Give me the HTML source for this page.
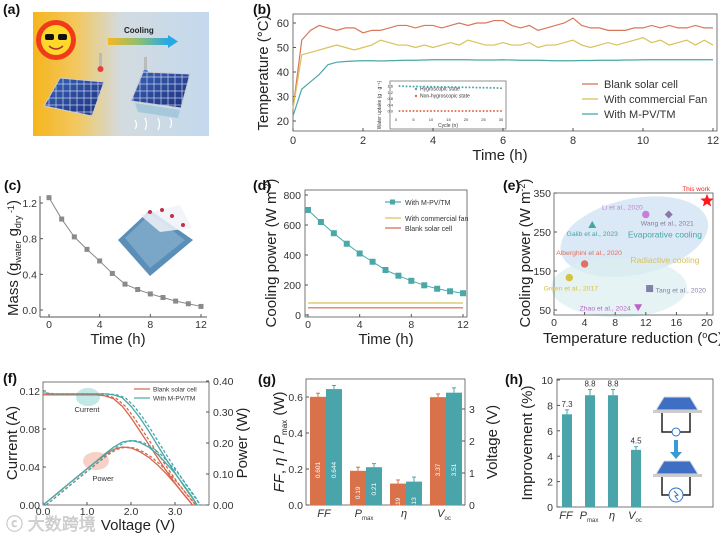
<!DOCTYPE html>
<html><head><meta charset="utf-8">
<style>
html,body{margin:0;padding:0;background:#fff;}
svg{display:block;font-family:"Liberation Sans","Noto Sans CJK SC",sans-serif;}
.tk{font-size:10.5px;fill:#333;}
.al{font-size:15px;fill:#222;}
.pl{font-size:14px;font-weight:bold;fill:#111;}
</style></head>
<body>
<svg id="fig" width="720" height="535" viewBox="0 0 720 535" xmlns="http://www.w3.org/2000/svg">
<defs>
<linearGradient id="bgA" x1="0" x2="1" y1="0" y2="0"><stop offset="0" stop-color="#f6b51c"/><stop offset="0.25" stop-color="#f2c860"/><stop offset="0.5" stop-color="#d3dbe0"/><stop offset="1" stop-color="#c3d9ee"/></linearGradient>
<linearGradient id="arrA" x1="0" x2="1"><stop offset="0" stop-color="#f5b820"/><stop offset="0.5" stop-color="#8fbf70"/><stop offset="1" stop-color="#27a8e6"/></linearGradient>
<linearGradient id="pv" x1="0" x2="1" y1="0" y2="1"><stop offset="0" stop-color="#3a63b8"/><stop offset="1" stop-color="#1d2f7a"/></linearGradient>
<pattern id="grid" width="7" height="7" patternUnits="userSpaceOnUse"><rect width="7" height="7" fill="none" stroke="#c9d6f0" stroke-width="0.7"/></pattern>
</defs>

<!-- Panel a -->
<g>
<text class="pl" x="3" y="14">(a)</text>
<rect x="33" y="12" width="176" height="124" fill="url(#bgA)"/>
<g>
<circle cx="56" cy="40" r="20" fill="#f03a1a"/>
<circle cx="56" cy="40" r="15" fill="#ffd92a"/>
<rect x="45" y="34" width="9" height="6" rx="2" fill="#111"/><rect x="58" y="34" width="9" height="6" rx="2" fill="#111"/>
<path d="M49 46 Q56 52 63 46" stroke="#a33" stroke-width="1.5" fill="none"/>
</g>
<text x="124" y="33" font-size="8" font-weight="bold" fill="#222">Cooling</text>
<rect x="108" y="38" width="60" height="7" fill="url(#arrA)"/>
<path d="M168 35 L178 41.5 L168 48 Z" fill="#27a8e6"/>
<rect x="99" y="53" width="3" height="13" fill="#bbb"/><circle cx="100.5" cy="69" r="3" fill="#e04040"/>
<rect x="144" y="57" width="3" height="13" fill="#bbb"/><circle cx="145.5" cy="73" r="3" fill="#2563d8"/>
<path d="M60 78 L104 82 L92 116 L44 106 Z" fill="url(#pv)" stroke="#ccc"/>
<path d="M60 78 L104 82 L92 116 L44 106 Z" fill="url(#grid)"/>
<path d="M143 72 L190 74 L181 108 L131 101 Z" fill="url(#pv)" stroke="#ccc"/>
<path d="M143 72 L190 74 L181 108 L131 101 Z" fill="url(#grid)"/>
<path d="M135 103 L180 110 L178 118 L138 112 Z" fill="#9cc3d8" opacity="0.8"/>
<path d="M135 120 q3 5 0 9 M145 118 q3 6 0 12 M158 118 q3 6 0 12 M170 118 q3 5 0 10" stroke="#fff" stroke-width="1.2" fill="none"/>
</g>

<!-- Panel b -->
<g id="pb">
<text class="pl" x="253" y="14">(b)</text>
<rect x="293" y="14" width="424" height="117" fill="none" stroke="#555" stroke-width="0.8"/>
<text class="al" transform="translate(268,73) rotate(-90)" text-anchor="middle" font-size="16">Temperature (°C)</text>
<text class="al" x="500" y="160" text-anchor="middle" font-size="15">Time (h)</text>
<rect x="390" y="81" width="116" height="48" fill="#fff" stroke="#777" stroke-width="0.8"/>
<text transform="translate(381,105) rotate(-90)" text-anchor="middle" font-size="5" fill="#333">Water uptake (g · g⁻¹)</text>
<text x="448" y="127" text-anchor="middle" font-size="5" fill="#333">Cycle (n)</text>
<circle cx="416" cy="89" r="1.2" fill="#4aa8a8"/><text x="420" y="90.5" font-size="5" fill="#333">Hygroscopic state</text>
<circle cx="416" cy="96" r="1.2" fill="#e0704f"/><text x="420" y="97.5" font-size="5" fill="#333">Non-hygroscopic state</text>
</g>

<!-- Panel c -->
<g id="pc">
<text class="pl" x="4" y="190">(c)</text>
<text class="al" transform="translate(18,258) rotate(-90)" text-anchor="middle" font-size="14">Mass (g<tspan font-size="9" dy="3">water</tspan><tspan dy="-3"> g</tspan><tspan font-size="9" dy="3">dry</tspan><tspan font-size="9" dy="-7"> -1</tspan><tspan dy="4">)</tspan></text>
<text class="al" x="118" y="344" text-anchor="middle">Time (h)</text>
<g>
<path d="M118 240 L150 210 L193 240 L150 276 Z" fill="#5b8fb8"/>
<path d="M125 238 L150 214 L185 240 L150 268 Z" fill="#8fb5d0" opacity="0.6"/>
<path d="M140 215 L180 205 L192 228 L160 232 Z" fill="#f0f2f8" opacity="0.85"/>
<circle cx="150" cy="212" r="2" fill="#c0304a"/><circle cx="162" cy="210" r="2" fill="#c0304a"/><circle cx="172" cy="216" r="2" fill="#c0304a"/><circle cx="183" cy="225" r="2" fill="#c0304a"/>
</g>
</g>

<!-- Panel d -->
<g id="pd">
<text class="pl" x="253" y="190">(d)</text>
<rect x="305" y="190" width="162" height="127" fill="none" stroke="#555" stroke-width="0.8"/>
<text class="al" transform="translate(276,253) rotate(-90)" text-anchor="middle" font-size="15">Cooling power (W m<tspan font-size="9" dy="-5">-2</tspan><tspan dy="5">)</tspan></text>
<text class="al" x="386" y="344" text-anchor="middle">Time (h)</text>
<g>
<line x1="385" y1="202" x2="401" y2="202" stroke="#4aa8a8" stroke-width="1.2"/><rect x="390" y="199.5" width="5" height="5" fill="#4aa8a8"/><text x="405" y="205" font-size="7" fill="#333">With M-PV/TM</text>
<line x1="385" y1="218" x2="401" y2="218" stroke="#d8c25a" stroke-width="1.2"/><text x="405" y="221" font-size="7" fill="#333">With commercial fan</text>
<line x1="385" y1="228" x2="401" y2="228" stroke="#d9654a" stroke-width="1.2"/><text x="405" y="231" font-size="7" fill="#333">Blank solar cell</text>
</g>
</g>

<!-- Panel e -->
<g id="pe">
<text class="pl" x="503" y="190">(e)</text>
<text class="al" transform="translate(530,253) rotate(-90)" text-anchor="middle" font-size="15">Cooling power (W m<tspan font-size="9" dy="-5">-2</tspan><tspan dy="5">)</tspan></text>
<text class="al" x="633" y="343" text-anchor="middle">Temperature reduction (<tspan font-size="9" dy="-5">o</tspan><tspan dy="5">C)</tspan></text>
</g>

<!-- Panel f -->
<g id="pf">
<text class="pl" x="3" y="383">(f)</text>
<rect x="43" y="382" width="166" height="123" fill="none" stroke="#555" stroke-width="0.8"/>
<text class="al" transform="translate(17,443) rotate(-90)" text-anchor="middle">Current (A)</text>
<text class="al" transform="translate(247,443) rotate(-90)" text-anchor="middle">Power (W)</text>
<text class="al" x="138" y="530" text-anchor="middle">Voltage (V)</text>
<text x="6" y="530" font-size="17" fill="#d8d8d8" stroke="#bbb" stroke-width="0.4">ⓒ 大数跨境</text>
<ellipse cx="88" cy="397" rx="12" ry="9" fill="#8fd6d3" opacity="0.55"/>
<text x="87" y="412" font-size="7.5" text-anchor="middle" fill="#333">Current</text>
<ellipse cx="96" cy="461" rx="13" ry="9" fill="#f3b3a0" opacity="0.6"/>
<text x="103" y="481" font-size="7.5" text-anchor="middle" fill="#333">Power</text>
<g>
<line x1="134" y1="389" x2="150" y2="389" stroke="#d9654a" stroke-width="1.2"/><text x="153" y="391.5" font-size="6.5" fill="#333">Blank solar cell</text>
<line x1="134" y1="398" x2="150" y2="398" stroke="#4aa8a8" stroke-width="1.2"/><text x="153" y="400.5" font-size="6.5" fill="#333">With M-PV/TM</text>
</g>
</g>

<!-- Panel g -->
<g id="pg">
<text class="pl" x="258" y="384">(g)</text>
<rect x="306" y="379" width="159" height="126" fill="none" stroke="#555" stroke-width="0.8"/>
<text class="al" transform="translate(284,442) rotate(-90)" text-anchor="middle" font-size="14"><tspan font-style="italic">FF</tspan>, <tspan font-style="italic">η</tspan> / <tspan font-style="italic">P</tspan><tspan font-size="8" dy="3">max</tspan><tspan dy="-3"> (W)</tspan></text>
<text class="al" transform="translate(497,442) rotate(-90)" text-anchor="middle">Voltage (V)</text>
</g>

<!-- Panel h -->
<g id="ph">
<text class="pl" x="505" y="384">(h)</text>
<rect x="557" y="379" width="156" height="128" fill="none" stroke="#555" stroke-width="0.8"/>
<text class="al" transform="translate(532,443) rotate(-90)" text-anchor="middle">Improvement (%)</text>
<g>
<path d="M664 397 L690 397 L698 410 L656 410 Z" fill="#3f6fc4" stroke="#ddd"/>
<rect x="653" y="410" width="49" height="3" fill="#ccc"/>
<path d="M662 413 V432 H690 V413" fill="none" stroke="#222" stroke-width="1.5"/>
<circle cx="676" cy="432" r="4" fill="#fff" stroke="#2b6fd0"/>
<rect x="674" y="440" width="4" height="12" fill="#3a9ad8"/><path d="M670 452 L682 452 L676 459 Z" fill="#3a9ad8"/>
<path d="M664 461 L690 461 L698 474 L656 474 Z" fill="#3f6fc4" stroke="#ddd"/>
<rect x="653" y="474" width="49" height="3" fill="#ccc"/>
<path d="M662 477 V495 H690 V477" fill="none" stroke="#222" stroke-width="1.5"/>
<circle cx="676" cy="495" r="7" fill="#fff" stroke="#2b6fd0"/>
<path d="M674 491 L678 495 L675 496 L678 500" stroke="#2b6fd0" fill="none"/>
</g>
</g>

</svg>
<script>
// ---------- data ----------
const bTimeStep = 0.25;
const bBlank = [25,53,57,59,58,57,58,58,56,57,57,58,59,59,58,59,59,58,59,60,59,60,60,61,61,59,58,59,57,58,59,60,62,59,58,58,57,57,57,58,58,59,58,59,58,58,59,58,58];
const bFan = [25,47,48,49,50,51,50,49,50,51,53,52,51,51,50,51,50,51,52,51,53,52,51,51,52,51,51,52,50,51,51,52,53,51,50,51,52,51,52,53,54,52,53,51,52,53,51,53,51];
const bMpv = [22,33,36,39,43,44,44.3,44.5,44.6,44.6,44.5,44.6,44.7,44.8,44.8,44.9,45,45,45,45,45,44.9,44.9,44.9,45,44.9,44.8,44.8,44.8,44.7,44.6,44.6,44.6,44.7,44.7,44.8,44.8,44.8,44.9,44.9,45,45,45,45,45,45,45,45,45];
const bYTicks = [20,30,40,50,60];
const bXTicks = [0,2,4,6,8,10,12];
const insetCycles = [1,2,3,4,5,6,7,8,9,10,11,12,13,14,15,16,17,18,19,20,21,22,23,24,25,26,27,28,29,30];
const insetHygro = [1.60,1.59,1.58,1.58,1.57,1.57,1.56,1.56,1.56,1.55,1.55,1.55,1.54,1.54,1.54,1.53,1.53,1.52,1.52,1.51,1.51,1.51,1.50,1.50,1.49,1.49,1.48,1.48,1.47,1.46];
const insetNon = [0,0,0,0,0,0,0,0,0,0,0,0,0,0,0,0,0,0,0,0,0,0,0,0,0,0,0,0,0,0];
const insetYTicks = [0.0,0.4,0.8,1.2,1.6];
const insetXTicks = [0,5,10,15,20,25,30];

const cTimes = [0,1,2,3,4,5,6,7,8,9,10,11,12];
const cMass = [1.26,1.02,0.82,0.68,0.55,0.41,0.29,0.23,0.18,0.14,0.10,0.07,0.04];
const cYTicks = [0.0,0.4,0.8,1.2];
const cXTicks = [0,4,8,12];

const dTimes = [0,1,2,3,4,5,6,7,8,9,10,11,12];
const dMpv = [700,620,545,475,410,355,300,262,228,198,175,158,145];
const dFan = 80;
const dBlank = 48;
const dYTicks = [0,200,400,600,800];
const dXTicks = [0,4,8,12];

const eNames = ["This work","Li et al., 2020","Wang et al., 2021","Galib et al., 2023","Alberghini et al., 2020","Green et al., 2017","Tang et al., 2020","Zhao et al., 2024"];
const eTemp = [20,12,15,5,4,2,12.5,11];
const ePower = [330,295,295,268,168,133,105,57];
const eYTicks = [50,150,250,350];
const eXTicks = [0,4,8,12,16,20];

const fVolt = [0,0.2,0.4,0.6,0.8,1.0,1.2,1.4,1.6,1.8,2.0,2.2,2.4,2.6,2.8,3.0,3.2,3.4,3.5];
const fIBlank = [0.116,0.116,0.116,0.116,0.116,0.116,0.116,0.115,0.112,0.104,0.092,0.078,0.064,0.050,0.036,0.023,0.011,0.0,null];
const fIMpv = [0.118,0.117,0.117,0.117,0.117,0.117,0.117,0.117,0.116,0.113,0.104,0.092,0.078,0.063,0.048,0.034,0.020,0.007,0.0];
const fPBlank = [0,0.023,0.046,0.070,0.093,0.116,0.139,0.161,0.179,0.187,0.184,0.172,0.154,0.130,0.101,0.069,0.035,0.0,null];
const fPMpv = [0,0.023,0.047,0.070,0.094,0.117,0.140,0.164,0.186,0.203,0.208,0.202,0.187,0.164,0.134,0.102,0.064,0.024,0.0];
const fDashShift = 0.07;
const fLeftTicks = [0.00,0.04,0.08,0.12];
const fRightTicks = [0.00,0.10,0.20,0.30,0.40];
const fXTicks = [0.0,1.0,2.0,3.0];

const gCats = ["FF","Pmax","η","Voc"];
const gBlank = [0.601,0.19,0.119,3.37];
const gMpv = [0.644,0.21,0.13,3.51];
const gBlankErr = [0.02,0.02,0.02,0.1];
const gMpvErr = [0.02,0.02,0.025,0.15];
const gLabelsBlank = ["0.601","0.19","0.119","3.37"];
const gLabelsMpv = ["0.644","0.21","0.13","3.51"];
const gLeftTicks = [0.0,0.2,0.4,0.6];
const gRightTicks = [0,1,2,3];

const hCats = ["FF","Pmax","η","Voc"];
const hVals = [7.3,8.8,8.8,4.5];
const hErr = [0.35,0.45,0.45,0.25];
const hYTicks = [0,2,4,6,8,10];

// ---------- helpers ----------
const NS = "http://www.w3.org/2000/svg";
const fig = document.getElementById('fig');
function sc(d0,d1,r0,r1){return v=>r0+(v-d0)*(r1-r0)/(d1-d0);}
function mk(tag, attrs, parent){const e=document.createElementNS(NS,tag);for(const k in attrs)e.setAttribute(k,attrs[k]);(parent||fig).appendChild(e);return e;}
function txt(x,y,s,anchor,size,parent,fill){const t=mk('text',{x:x,y:y,'text-anchor':anchor||'middle','font-size':size||10.5,fill:fill||'#333'},parent);t.textContent=s;return t;}
function pathFrom(xs,ys,X,Y){let d='';let started=false;for(let i=0;i<xs.length;i++){if(ys[i]===null)continue;d+=(started?'L':'M')+X(xs[i]).toFixed(2)+' '+Y(ys[i]).toFixed(2);started=true;}return d;}
function fmt(v,dec){return v.toFixed(dec);}

// ---------- panel b ----------
(function(){
const g=document.getElementById('pb');
const X=sc(0,12,293,713), Y=sc(20,60,121,23);
bYTicks.forEach(v=>{mk('line',{x1:293,x2:296,y1:Y(v),y2:Y(v),stroke:'#555'},g);const t=txt(289,Y(v)+4,String(v),'end',11,g);});
bXTicks.forEach(v=>{mk('line',{x1:X(v),x2:X(v),y1:131,y2:128,stroke:'#555'},g);const t=txt(X(v),144,String(v),'middle',11,g);});
const ts=bBlank.map((_,i)=>i*bTimeStep);
const series=[[bBlank,'#d9775a','line-blank-solar-cell'],[bFan,'#d8c25a','line-commercial-fan'],[bMpv,'#4aa8a8','line-mpv-tm']];
series.forEach(s=>{const p=mk('path',{d:pathFrom(ts,s[0],X,Y),fill:'none',stroke:s[1],'stroke-width':1.2},g);

});
const leg=[['Blank solar cell','#d9775a',84],['With commercial Fan','#d8c25a',99],['With M-PV/TM','#4aa8a8',114]];
leg.forEach(l=>{mk('line',{x1:582,x2:598,y1:l[2],y2:l[2],stroke:l[1],'stroke-width':1.3},g);const t=txt(604,l[2]+4,l[0],'start',11,g);

});
const IX=sc(0,30,396,501), IY=sc(0,1.6,111,86);
insetYTicks.forEach(v=>{txt(393,IY(v)+1.5,fmt(v,1),'end',4,g);});
insetXTicks.forEach(v=>{txt(IX(v),121,String(v),'middle',4,g);});
insetCycles.forEach((c,i)=>{
const a=mk('circle',{cx:IX(c),cy:IY(insetHygro[i]),r:1,fill:'#4aa8a8'},g);


const b=mk('circle',{cx:IX(c),cy:IY(insetNon[i]),r:1,fill:'#e0704f'},g);


});
})();

// ---------- panel c ----------
(function(){
const g=document.getElementById('pc');
const X=sc(0,12,49,201), Y=sc(0,1.2,310,203);
mk('line',{x1:40,x2:40,y1:196,y2:317,stroke:'#555'},g);
mk('line',{x1:40,x2:207,y1:317,y2:317,stroke:'#555'},g);
cYTicks.forEach(v=>{mk('line',{x1:40,x2:43,y1:Y(v),y2:Y(v),stroke:'#555'},g);const t=txt(37,Y(v)+4,fmt(v,1),'end',10.5,g);});
cXTicks.forEach(v=>{mk('line',{x1:X(v),x2:X(v),y1:317,y2:314,stroke:'#555'},g);const t=txt(X(v),328,String(v),'middle',10.5,g);});
const p=mk('path',{d:pathFrom(cTimes,cMass,X,Y),fill:'none',stroke:'#888','stroke-width':1},g);


cTimes.forEach((t,i)=>{const r=mk('rect',{x:X(t)-2.5,y:Y(cMass[i])-2.5,width:5,height:5,fill:'#8a8a8a'},g);

});
})();

// ---------- panel d ----------
(function(){
const g=document.getElementById('pd');
const X=sc(0,12,308,463), Y=sc(0,800,315,195);
dYTicks.forEach(v=>{mk('line',{x1:305,x2:308,y1:Y(v),y2:Y(v),stroke:'#555'},g);const t=txt(301,Y(v)+4,String(v),'end',10.5,g);});
dXTicks.forEach(v=>{mk('line',{x1:X(v),x2:X(v),y1:317,y2:314,stroke:'#555'},g);const t=txt(X(v),328,String(v),'middle',10.5,g);});
const f=mk('line',{x1:X(0),x2:X(12),y1:Y(dFan),y2:Y(dFan),stroke:'#d8c25a','stroke-width':1.2},g);


const b=mk('line',{x1:X(0),x2:X(12),y1:Y(dBlank),y2:Y(dBlank),stroke:'#d9654a','stroke-width':1.2},g);


const p=mk('path',{d:pathFrom(dTimes,dMpv,X,Y),fill:'none',stroke:'#4aa8a8','stroke-width':1},g);


dTimes.forEach((t,i)=>{const r=mk('rect',{x:X(t)-3,y:Y(dMpv[i])-3,width:6,height:6,fill:'#4aa8a8'},g);

});
})();

// ---------- panel e ----------
(function(){
const g=document.getElementById('pe');
const X=sc(0,20,554,707), Y=sc(50,350,310,193);
mk('ellipse',{cx:X(10.5),cy:Y(238),rx:75,ry:38,fill:'#cfe0f2',opacity:0.75,transform:'rotate(-12 '+X(10.5)+' '+Y(238)+')'},g);
mk('ellipse',{cx:X(8.5),cy:Y(108),rx:68,ry:30,fill:'#dceff0',opacity:0.75},g);
mk('rect',{x:554,y:193,width:159,height:122,fill:'none',stroke:'#555','stroke-width':0.8},g);
eYTicks.forEach(v=>{mk('line',{x1:554,x2:557,y1:Y(v),y2:Y(v),stroke:'#555'},g);const t=txt(551,Y(v)+4,String(v),'end',10.5,g);});
eXTicks.forEach(v=>{mk('line',{x1:X(v),x2:X(v),y1:315,y2:312,stroke:'#555'},g);const t=txt(X(v),326,String(v),'middle',10.5,g);});
txt(X(14.5),Y(236),'Evaporative cooling','middle',8.5,g,'#4aa8a8');
txt(X(14.5),Y(170),'Radiactive cooling','middle',8.5,g,'#d8c25a');
const colors=['#ff1a1a','#c77fd8','#8a79a8','#3fa8a6','#e0705f','#d8c040','#8080a8','#c060d0'];
const lab=[[-2,-10,'end'],[-2,-5,'end'],[-1,11,'middle'],[0,11,'middle'],[3,-9,'middle'],[1,13,'middle'],[4,4,'start'],[-5,3,'end']];
eTemp.forEach((t,i)=>{
const cx=X(t), cy=Y(ePower[i]); let m;
if(i===0){let d='';for(let k=0;k<10;k++){const r=k%2?3:7;const a=-Math.PI/2+k*Math.PI/5;d+=(k?'L':'M')+(cx+r*Math.cos(a)).toFixed(2)+' '+(cy+r*Math.sin(a)).toFixed(2);}m=mk('path',{d:d+'Z',fill:colors[i]},g);}
else if(i===2){m=mk('path',{d:`M${cx} ${cy-4}L${cx+4} ${cy}L${cx} ${cy+4}L${cx-4} ${cy}Z`,fill:colors[i]},g);}
else if(i===3){m=mk('path',{d:`M${cx} ${cy-4}L${cx+4} ${cy+3}L${cx-4} ${cy+3}Z`,fill:colors[i]},g);}
else if(i===6){m=mk('rect',{x:cx-3.5,y:cy-3.5,width:7,height:7,fill:colors[i]},g);}
else if(i===7){m=mk('path',{d:`M${cx-4} ${cy-3}L${cx+4} ${cy-3}L${cx} ${cy+4}Z`,fill:colors[i]},g);}
else {m=mk('circle',{cx:cx,cy:cy,r:3.7,fill:colors[i]},g);}


const tl=txt(cx+lab[i][0]*1.5+(i===0?6:0),cy+lab[i][1],eNames[i],lab[i][2],i===0?6.5:6.8,g,colors[i]);


});
})();

// ---------- panel f ----------
(function(){
const g=document.getElementById('pf');
const X=sc(0,1,43,87), YL=sc(0,0.12,505,391), YR=sc(0,0.4,505,381);
fLeftTicks.forEach(v=>{mk('line',{x1:43,x2:46,y1:YL(v),y2:YL(v),stroke:'#555'},g);const t=txt(40,YL(v)+4,fmt(v,2),'end',10.5,g);});
fRightTicks.forEach(v=>{mk('line',{x1:209,x2:206,y1:YR(v),y2:YR(v),stroke:'#555'},g);const t=txt(213,YR(v)+4,fmt(v,2),'start',10.5,g);});
fXTicks.forEach(v=>{mk('line',{x1:X(v),x2:X(v),y1:505,y2:502,stroke:'#555'},g);const t=txt(X(v),515,fmt(v,1),'middle',10.5,g);});
const shifted=fVolt.map(v=>v+fDashShift);
const lines=[[fVolt,fIBlank,YL,'#d9654a',null,'iv-blank'],[shifted,fIBlank,YL,'#d9654a','3,2','iv-blank-dashed'],[fVolt,fIMpv,YL,'#4aa8a8',null,'iv-mpv'],[shifted,fIMpv,YL,'#4aa8a8','3,2','iv-mpv-dashed'],
[fVolt,fPBlank,YR,'#d9654a',null,'pv-blank'],[shifted,fPBlank,YR,'#d9654a','3,2','pv-blank-dashed'],[fVolt,fPMpv,YR,'#4aa8a8',null,'pv-mpv'],[shifted,fPMpv,YR,'#4aa8a8','3,2','pv-mpv-dashed']];
lines.forEach(l=>{const a={d:pathFrom(l[0],l[1],X,l[2]),fill:'none',stroke:l[3],'stroke-width':1.3};if(l[4])a['stroke-dasharray']=l[4];const p=mk('path',a,g);

});
})();

// ---------- panel g ----------
(function(){
const g=document.getElementById('pg');
const YL=sc(0,0.6,505,397), YR=sc(0,3,505,409);
const centers=[326,366,406,446];
gLeftTicks.forEach(v=>{mk('line',{x1:306,x2:309,y1:YL(v),y2:YL(v),stroke:'#555'},g);const t=txt(303,YL(v)+4,fmt(v,1),'end',10.5,g);});
gRightTicks.forEach(v=>{mk('line',{x1:465,x2:462,y1:YR(v),y2:YR(v),stroke:'#555'},g);const t=txt(469,YR(v)+4,String(v),'start',10.5,g);});
gCats.forEach((c,i)=>{
const Y=i===3?YR:YL;
[[gBlank,gBlankErr,gLabelsBlank,'#d9714a',-16,'bar-blank-'],[gMpv,gMpvErr,gLabelsMpv,'#4aa5ab',0,'bar-mpv-']].forEach(s=>{
const x=centers[i]+s[4], y=Y(s[0][i]);
const r=mk('rect',{x:x,y:y,width:16,height:505-y,fill:s[3]},g);


const ey=Y(s[0][i]+s[1][i]);
mk('line',{x1:x+8,x2:x+8,y1:y,y2:ey,stroke:s[3],'stroke-width':1},g);
mk('line',{x1:x+6,x2:x+10,y1:ey,y2:ey,stroke:s[3],'stroke-width':1},g);
const t=mk('text',{transform:`translate(${x+10},${Math.max(y+22,470)}) rotate(-90)`,'text-anchor':'middle','font-size':6.5,fill:'#fff'},g);
t.textContent=s[2][i];


});
});
const cl=[['FF',''],['P','max'],['η',''],['V','oc']];
cl.forEach((c,i)=>{const t=mk('text',{x:centers[i]-2,y:517,'text-anchor':'middle','font-size':11,'font-style':'italic',fill:'#333'},g);t.textContent=c[0];
if(c[1]){const s=mk('tspan',{'font-size':6,dy:3,'font-style':'normal'},t);s.textContent=c[1];}

});
})();

// ---------- panel h ----------
(function(){
const g=document.getElementById('ph');
const Y=sc(0,10,507,380);
const centers=[567,590,613,636];
hYTicks.forEach(v=>{mk('line',{x1:557,x2:560,y1:Y(v),y2:Y(v),stroke:'#555'},g);const t=txt(553,Y(v)+4,String(v),'end',10.5,g);});
hCats.forEach((c,i)=>{
const y=Y(hVals[i]);
const r=mk('rect',{x:centers[i]-5,y:y,width:10,height:507-y,fill:'#4aa5ab'},g);


const ey=Y(hVals[i]+hErr[i]);
mk('line',{x1:centers[i],x2:centers[i],y1:y,y2:ey,stroke:'#4aa5ab'},g);
mk('line',{x1:centers[i]-2,x2:centers[i]+2,y1:ey,y2:ey,stroke:'#4aa5ab'},g);
const t=txt(centers[i],ey-3,fmt(hVals[i],1),'middle',8,g);


});
const cl=[['FF',''],['P','max'],['η',''],['V','oc']];
cl.forEach((c,i)=>{const t=mk('text',{x:centers[i]-1,y:519,'text-anchor':'middle','font-size':11,'font-style':'italic',fill:'#333'},g);t.textContent=c[0];
if(c[1]){const s=mk('tspan',{'font-size':6,dy:3,'font-style':'normal'},t);s.textContent=c[1];}

});
})();
</script>
</body></html>
